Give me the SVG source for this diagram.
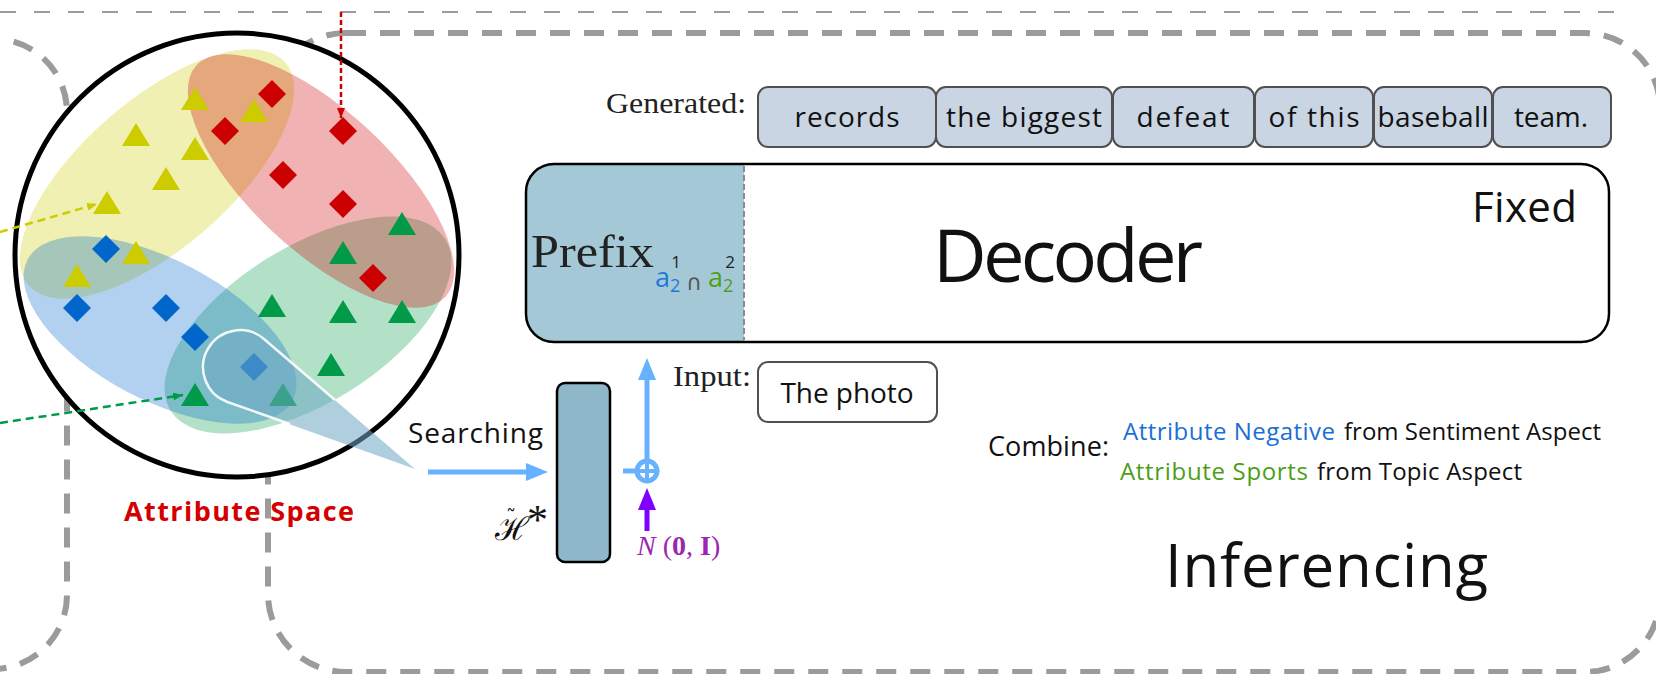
<svg xmlns="http://www.w3.org/2000/svg" width="1656" height="674" viewBox="0 0 1656 674">
  <defs>
    <style>
      .frame{fill:none;stroke:#9b9b9b;stroke-width:6;stroke-dasharray:20 14}
      .hand{font-family:"Open Sans","DejaVu Sans",sans-serif;fill:#111}
      .serif{font-family:"Liberation Serif","DejaVu Serif",serif;fill:#222}
      .tok{fill:#c9d5e3;stroke:#505050;stroke-width:2}
      .tokt{font-family:"Open Sans","DejaVu Sans",sans-serif;font-size:28px;fill:#111;text-anchor:middle}
      .blob{opacity:0.3}
      .flow{fill:none;stroke:#66b2ff;stroke-width:5}
    </style>
    <path id="tri" d="M0,-12 L14,11 L-14,11 Z"/>
    <path id="dia" d="M0,-14 L14,0 L0,14 L-14,0 Z"/>
    <marker id="ahBlue" markerUnits="userSpaceOnUse" markerWidth="22" markerHeight="18" refX="4" refY="9" orient="auto">
      <path d="M0,0 L22,9 L0,18 Z" fill="#66b2ff"/>
    </marker>
    <marker id="ahPurple" markerUnits="userSpaceOnUse" markerWidth="22" markerHeight="18" refX="4" refY="9" orient="auto">
      <path d="M0,0 L22,9 L0,18 Z" fill="#8000ff"/>
    </marker>
    <marker id="ahRed" markerUnits="userSpaceOnUse" markerWidth="10" markerHeight="8" refX="10" refY="4" orient="auto">
      <path d="M0,0 L10,4 L0,8 Z" fill="#cc0000"/>
    </marker>
    <marker id="ahYellow" markerUnits="userSpaceOnUse" markerWidth="10" markerHeight="8" refX="10" refY="4" orient="auto">
      <path d="M0,0 L10,4 L0,8 Z" fill="#cccc00"/>
    </marker>
    <marker id="ahGreen" markerUnits="userSpaceOnUse" markerWidth="10" markerHeight="8" refX="10" refY="4" orient="auto">
      <path d="M0,0 L10,4 L0,8 Z" fill="#009a49"/>
    </marker>
    <clipPath id="decClip">
      <rect x="526" y="164" width="1083" height="178" rx="28"/>
    </clipPath>
  </defs>

  <rect width="1656" height="674" fill="#ffffff"/>

  <!-- panel frames -->
  <g id="frames">
    <path d="M0,12 L1618,12" fill="none" stroke="#9b9b9b" stroke-width="2" stroke-dasharray="16 18"/>
    <path class="frame" d="M-20,39 L-6,39 A73 73 0 0 1 67,112 L67,595 A74 74 0 0 1 -7,669 L-20,669"/>
    <path class="frame" d="M346,33 L1585,33 A75 75 0 0 1 1660,108 L1660,597 A75 75 0 0 1 1585,672 L346,672 A78 78 0 0 1 268,594 L268,111 A78 78 0 0 1 346,33 Z"/>
  </g>

  <!-- attribute space -->
  <g id="attribute-space">
    <circle cx="237" cy="255" r="222" fill="#ffffff" stroke="#000" stroke-width="5"/>
    <ellipse class="blob" cx="308" cy="325" rx="162" ry="78" fill="#009a49" transform="rotate(-32 308 325)"/>
    <ellipse class="blob" cx="157" cy="174" rx="170" ry="74" fill="#cccc00" transform="rotate(-41 157 174)"/>
    <ellipse class="blob" cx="160" cy="330" rx="150" ry="70" fill="#0066cc" transform="rotate(28 160 330)"/>
    <ellipse class="blob" cx="321" cy="181" rx="170" ry="70" fill="#cc0000" transform="rotate(43 321 181)"/>

    <g fill="#cccc00">
      <use href="#tri" x="195" y="99"/>
      <use href="#tri" x="254" y="111"/>
      <use href="#tri" x="136" y="135"/>
      <use href="#tri" x="195" y="149"/>
      <use href="#tri" x="166" y="179"/>
      <use href="#tri" x="107" y="203"/>
      <use href="#tri" x="136" y="253"/>
      <use href="#tri" x="77" y="276"/>
    </g>
    <g fill="#cc0000">
      <use href="#dia" x="272" y="94"/>
      <use href="#dia" x="225" y="131"/>
      <use href="#dia" x="343" y="131"/>
      <use href="#dia" x="283" y="175"/>
      <use href="#dia" x="343" y="204"/>
      <use href="#dia" x="373" y="278"/>
    </g>
    <g fill="#009a49">
      <use href="#tri" x="402" y="224"/>
      <use href="#tri" x="343" y="253"/>
      <use href="#tri" x="272" y="306"/>
      <use href="#tri" x="343" y="312"/>
      <use href="#tri" x="402" y="312"/>
      <use href="#tri" x="331" y="365"/>
      <use href="#tri" x="195" y="395"/>
      <use href="#tri" x="283" y="395"/>
    </g>
    <g fill="#0066cc">
      <use href="#dia" x="106" y="249"/>
      <use href="#dia" x="77" y="308"/>
      <use href="#dia" x="166" y="308"/>
      <use href="#dia" x="195" y="337"/>
      <use href="#dia" x="254" y="367"/>
    </g>

    <!-- searched region -->
    <path d="M415,469 L264,339 A37 37 0 1 0 227.5,402 Z" fill="#6ea8c2" opacity="0.55"/>
    <path d="M335,400 L264,339 A37 37 0 1 0 227.5,402 L290,424" fill="none" stroke="#ffffff" stroke-width="2.5" opacity="0.9"/>

    <text x="124" y="521" font-family="Open Sans, DejaVu Sans, sans-serif" font-weight="bold" font-size="27" fill="#d40000" textLength="230">Attribute Space</text>
  </g>

  <!-- generated tokens -->
  <g id="generated">
    <text class="serif" x="606" y="113" font-size="30" textLength="140" lengthAdjust="spacingAndGlyphs">Generated:</text>
    <rect class="tok" x="758" y="87" width="178" height="60" rx="10"/>
    <rect class="tok" x="936" y="87" width="176" height="60" rx="10"/>
    <rect class="tok" x="1113" y="87" width="141" height="60" rx="10"/>
    <rect class="tok" x="1255" y="87" width="118" height="60" rx="10"/>
    <rect class="tok" x="1374" y="87" width="118" height="60" rx="10"/>
    <rect class="tok" x="1493" y="87" width="118" height="60" rx="10"/>
    <text class="tokt" x="847" y="127" textLength="105">records</text>
    <text class="tokt" x="1024" y="127" textLength="156">the biggest</text>
    <text class="tokt" x="1183" y="127" textLength="93">defeat</text>
    <text class="tokt" x="1314" y="127" textLength="91">of this</text>
    <text class="tokt" x="1433" y="127" textLength="111">baseball</text>
    <text class="tokt" x="1551" y="127" textLength="74">team.</text>
  </g>

  <!-- decoder with prefix -->
  <g id="decoder">
    <rect x="526" y="164" width="1083" height="178" rx="28" fill="#ffffff"/>
    <rect x="526" y="164" width="218" height="178" fill="#a5c8d6" clip-path="url(#decClip)"/>
    <line x1="744" y1="166" x2="744" y2="340" stroke="#8a8a8a" stroke-width="2" stroke-dasharray="6 3"/>
    <rect x="526" y="164" width="1083" height="178" rx="28" fill="none" stroke="#000" stroke-width="2.5"/>
    <text class="serif" x="531" y="267" font-size="46" fill="#111" textLength="123" lengthAdjust="spacingAndGlyphs">Prefix</text>
    <g font-family="Open Sans, DejaVu Sans, sans-serif">
      <text x="655" y="287" font-size="27" fill="#1e78dc">a</text>
      <text x="670" y="292" font-size="18" fill="#1e78dc">2</text>
      <text x="676" y="268" font-size="17" fill="#222" text-anchor="middle">1</text>
      <text x="694" y="290" font-size="22" fill="#555" text-anchor="middle" font-family="DejaVu Sans, sans-serif">∩</text>
      <text x="708" y="287" font-size="27" fill="#4ea01c">a</text>
      <text x="723" y="292" font-size="18" fill="#4ea01c">2</text>
      <text x="730" y="268" font-size="17" fill="#222" text-anchor="middle">2</text>
    </g>
    <text class="hand" x="933" y="282" font-size="74" textLength="270">Decoder</text>
    <text class="hand" x="1472" y="222" font-size="42" textLength="105">Fixed</text>
  </g>

  <!-- input -->
  <g id="input">
    <text class="serif" x="673" y="386" font-size="30" textLength="78" lengthAdjust="spacingAndGlyphs">Input:</text>
    <rect x="758" y="362" width="179" height="60" rx="10" fill="#ffffff" stroke="#505050" stroke-width="2"/>
    <text class="tokt" x="847" y="403" textLength="133">The photo</text>
  </g>

  <!-- searched prefix vector -->
  <g id="prefix-vector">
    <rect x="557" y="383" width="53" height="179" rx="8" fill="#8eb7ca" stroke="#000" stroke-width="2.5"/>
    <text x="495" y="540" font-family="DejaVu Serif, serif" font-size="32" fill="#111">ℋ<tspan x="506" y="524" font-size="20">˜</tspan><tspan x="527" y="534" font-family="Liberation Serif, serif" font-size="42">*</tspan></text>
  </g>

  <!-- noise -->
  <g id="noise">
    <text x="637" y="555" font-family="Liberation Serif, serif" font-size="28" fill="#9b27af"><tspan font-style="italic">N</tspan> (<tspan font-weight="bold">0</tspan>, <tspan font-weight="bold">I</tspan>)</text>
  </g>

  <!-- combine note -->
  <g id="combine">
    <text class="hand" x="988" y="456" font-size="27" textLength="121">Combine:</text>
    <text x="1123" y="440" font-family="Open Sans, DejaVu Sans, sans-serif" font-size="24" fill="#1a6fd6" textLength="212">Attribute Negative</text>
    <text class="hand" x="1344" y="440" font-size="24" textLength="257">from Sentiment Aspect</text>
    <text x="1120" y="480" font-family="Open Sans, DejaVu Sans, sans-serif" font-size="24" fill="#4c9e16" textLength="188">Attribute Sports</text>
    <text class="hand" x="1317" y="480" font-size="24" textLength="205">from Topic Aspect</text>
  </g>

  <g id="stage-label">
    <text class="hand" x="1165" y="587" font-size="60" textLength="323">Inferencing</text>
  </g>

  <g id="searching-label">
    <text class="hand" x="408" y="443" font-size="28" textLength="135">Searching</text>
  </g>

  <!-- connectors -->
  <g id="connectors">
    <path d="M341,12 L341,118" fill="none" stroke="#cc0000" stroke-width="2.5" stroke-dasharray="5 3" marker-end="url(#ahRed)"/>
    <path d="M0,232 L97,204" fill="none" stroke="#cccc00" stroke-width="2.5" stroke-dasharray="8 5" marker-end="url(#ahYellow)"/>
    <path d="M0,423 L183,395" fill="none" stroke="#009a49" stroke-width="2.5" stroke-dasharray="8 5" marker-end="url(#ahGreen)"/>
    <path class="flow" d="M428,472 L530,472" marker-end="url(#ahBlue)"/>
    <path class="flow" d="M623,471 L637,471"/>
    <path class="flow" d="M647,461 L647,376" marker-end="url(#ahBlue)"/>
    <path d="M647,531 L647,506" fill="none" stroke="#8000ff" stroke-width="5" marker-end="url(#ahPurple)"/>
    <g id="sum">
      <circle cx="647" cy="471" r="10" fill="#ffffff" stroke="#66b2ff" stroke-width="5"/>
      <path d="M637,471 L657,471 M647,461 L647,481" stroke="#66b2ff" stroke-width="4"/>
    </g>
  </g>
</svg>
